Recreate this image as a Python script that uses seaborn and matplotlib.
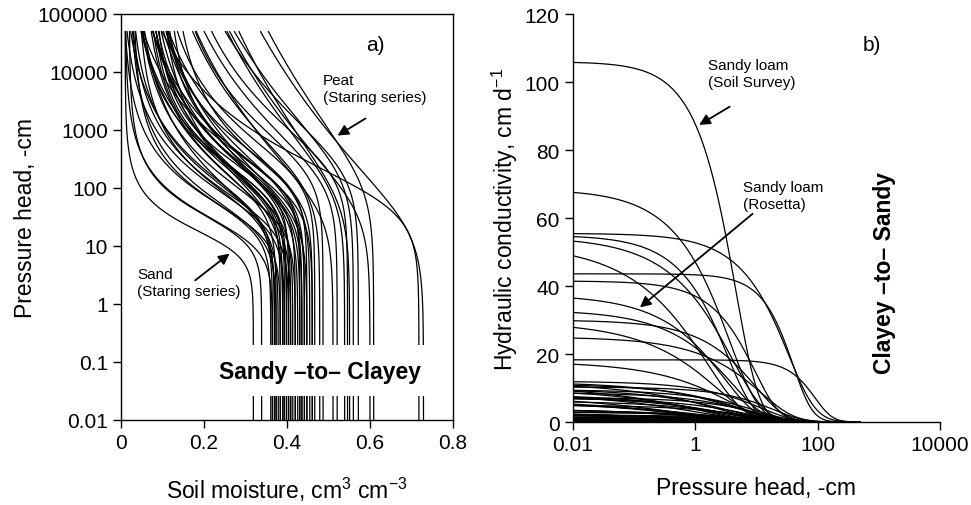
import numpy as np
import pandas as pd
import seaborn as sns
import matplotlib
matplotlib.use("Agg")
import matplotlib.pyplot as plt
from matplotlib.patches import Rectangle
from matplotlib.ticker import FixedLocator, NullLocator, FuncFormatter

theta_r = [0.01, 0.02, 0.03, 0.02, 0.04, 0.05, 0.03, 0.06, 0.04, 0.07, 0.05, 0.08,
           0.02, 0.09, 0.06, 0.03, 0.10, 0.05, 0.11, 0.07, 0.02, 0.12, 0.08, 0.04,
           0.10, 0.00, 0.05, 0.00, 0.10, 0.00, 0.00, 0.05, 0.00, 0.00, 0.00, 0.00,
           0.005, 0.015, 0.03, 0.06, 0.01,
           0.00, 0.01, 0.03, 0.00, 0.02, 0.00, 0.04, 0.01, 0.02, 0.00]
theta_s = [0.319, 0.339, 0.361, 0.365, 0.370, 0.374, 0.379, 0.384, 0.390, 0.394, 0.399, 0.404,
           0.409, 0.414, 0.420, 0.426, 0.431, 0.436, 0.442, 0.448, 0.455, 0.461, 0.467, 0.479,
           0.487, 0.511, 0.521, 0.539, 0.546, 0.551, 0.560, 0.572, 0.600, 0.609, 0.718, 0.729,
           0.384, 0.404, 0.420, 0.436, 0.365,
           0.370, 0.390, 0.399, 0.409, 0.431, 0.442, 0.448, 0.461, 0.374, 0.394]
alpha_a = [0.080, 0.050, 0.035, 0.020, 0.025, 0.015, 0.030, 0.012, 0.020, 0.010, 0.015, 0.008,
           0.012, 0.020, 0.010, 0.018, 0.007, 0.010, 0.012, 0.006, 0.009, 0.009, 0.005, 0.008,
           0.004, 0.020, 0.006, 0.010, 0.004, 0.015, 0.005, 0.004, 0.020, 0.008, 0.015, 0.046,
           0.040, 0.030, 0.025, 0.015, 0.060,
           0.020, 0.012, 0.010, 0.025, 0.015, 0.008, 0.020, 0.012, 0.040, 0.030]
n_a = [2.00, 1.80, 1.60, 1.45, 1.50, 1.40, 1.35, 1.45, 1.30, 1.50, 1.35, 1.55,
       1.30, 1.40, 1.40, 1.25, 1.50, 1.30, 1.45, 1.40, 1.25, 1.40, 1.35, 1.20,
       1.30, 1.15, 1.20, 1.12, 1.25, 1.10, 1.13, 1.18, 1.12, 1.09, 1.30, 1.10,
       1.55, 1.45, 1.40, 1.35, 1.70,
       1.40, 1.35, 1.45, 1.30, 1.30, 1.35, 1.25, 1.30, 1.50, 1.45]
h_min_a, h_max_a = 0.01, 50000

# ---------------- Panel b: hydraulic conductivity curves -------------
k_sat = [106.0, 68.5, 55.5, 55.0, 54.5, 52.5, 43.6, 41.5, 37.5, 33.0, 30.0, 29.5, 25.0,
         18.3, 17.8, 12.0, 11.6, 11.2, 10.8, 10.3, 9.8, 9.2, 8.6, 8.0, 7.6, 7.2, 6.7,
         6.2, 5.6, 5.0, 4.2, 3.6, 3.3, 3.0, 2.7, 2.4, 2.1, 1.8, 1.5, 1.2, 0.9, 0.6,
         0.4, 0.25, 0.12,
         11.8, 10.0, 9.5, 8.2, 7.0, 6.5, 3.8, 3.1, 2.9, 2.2, 1.9, 1.6, 1.3, 1.0, 0.8,
         0.7, 0.5, 0.3]
alpha_b = [0.090, 0.080, 0.010, 0.100, 0.060, 0.120, 0.0125, 0.040, 0.080, 0.060, 0.030,
           0.080, 0.020, 0.006, 0.050, 0.020, 0.050, 0.030, 0.080, 0.015, 0.040, 0.060,
           0.025, 0.100, 0.035, 0.020, 0.070, 0.030, 0.050, 0.020, 0.040, 0.030, 0.060,
           0.020, 0.050, 0.030, 0.015, 0.040, 0.025, 0.050, 0.020, 0.030, 0.015, 0.020, 0.010,
           0.030, 0.060, 0.020, 0.045, 0.025, 0.080, 0.030, 0.050, 0.020, 0.040, 0.015,
           0.060, 0.025, 0.035, 0.015, 0.050, 0.020, 0.030]
n_b = [2.00, 1.70, 1.80, 1.80, 1.60, 1.50, 2.30, 1.90, 1.60, 1.60, 1.70, 1.50, 1.60,
       2.50, 1.50, 1.60, 1.40, 1.50, 1.35, 1.70, 1.45, 1.30, 1.55, 1.30, 1.40, 1.60,
       1.30, 1.45, 1.35, 1.50, 1.30, 1.40, 1.25, 1.45, 1.30, 1.35, 1.50, 1.25, 1.40,
       1.20, 1.30, 1.25, 1.35, 1.20, 1.30,
       1.45, 1.35, 1.55, 1.40, 1.50, 1.30, 1.35, 1.25, 1.50, 1.30, 1.45, 1.20, 1.35,
       1.25, 1.40, 1.20, 1.30, 1.25]
h_min_b, h_max_b = 0.01, 500


def vg_theta(h, tr, ts, a, n):
    m = 1 - 1 / n
    return tr + (ts - tr) / (1 + (a * h) ** n) ** m


def vg_k(h, ks, a, n, L=0.5):
    m = 1 - 1 / n
    se = (1 + (a * h) ** n) ** (-m)
    return ks * se ** L * (1 - (1 - se ** (1 / m)) ** m) ** 2


ha = np.logspace(np.log10(h_min_a), np.log10(h_max_a), 500)
rows = []
for i, (tr, ts, a, n) in enumerate(zip(theta_r, theta_s, alpha_a, n_a)):
    rows.append(pd.DataFrame({"curve": i, "h": ha, "theta": vg_theta(ha, tr, ts, a, n)}))
df_a = pd.concat(rows, ignore_index=True)

hb = np.logspace(np.log10(h_min_b), np.log10(h_max_b), 500)
rows = []
for i, (ks, a, n) in enumerate(zip(k_sat, alpha_b, n_b)):
    rows.append(pd.DataFrame({"curve": i, "h": hb, "K": vg_k(hb, ks, a, n)}))
df_b = pd.concat(rows, ignore_index=True)

sns.set_style("ticks")
plt.rcParams["font.family"] = ["Liberation Sans", "DejaVu Sans"]
plt.rcParams["mathtext.fontset"] = "custom"
plt.rcParams["mathtext.rm"] = "Liberation Sans"
plt.rcParams["mathtext.it"] = "Liberation Sans"
plt.rcParams["text.color"] = "black"
plt.rcParams["axes.labelcolor"] = "black"
plt.rcParams["xtick.color"] = "black"
plt.rcParams["ytick.color"] = "black"

fig = plt.figure(figsize=(9.71, 5.06), dpi=100)
ax1 = fig.add_axes([0.1246, 0.168, 0.3419, 0.8024])
ax2 = fig.add_axes([0.590, 0.164, 0.378, 0.806])

TICK = 15
LAB = 16.5
ANN = 11

# ---- panel a
sns.lineplot(data=df_a, x="theta", y="h", units="curve", estimator=None, sort=False,
             color="black", lw=0.9, ax=ax1, legend=False)
ax1.set_yscale("log")
ax1.set_xlim(0, 0.8)
ax1.set_ylim(0.01, 100000)
ax1.xaxis.set_major_locator(FixedLocator([0, 0.2, 0.4, 0.6, 0.8]))
ax1.yaxis.set_major_locator(FixedLocator([0.01, 0.1, 1, 10, 100, 1000, 10000, 100000]))
ax1.yaxis.set_minor_locator(NullLocator())
fmt = FuncFormatter(lambda v, p: "{:g}".format(v))
ax1.xaxis.set_major_formatter(fmt)
ax1.yaxis.set_major_formatter(fmt)
ax1.set_xlabel("Soil moisture, cm$^{3}$ cm$^{-3}$", fontsize=LAB, labelpad=16)
ax1.set_ylabel("Pressure head, -cm", fontsize=LAB, labelpad=0)

ax1.add_patch(Rectangle((0.33, 0.06), 0.63, 0.125, transform=ax1.transAxes,
                        facecolor="white", edgecolor="none", zorder=3))
ax1.text(0.60, 0.12, "Sandy \u2013to\u2013 Clayey", transform=ax1.transAxes, fontsize=16.5,
         fontweight="bold", ha="center", va="center", zorder=4)
ax1.text(0.765, 0.926, "a)", transform=ax1.transAxes, fontsize=TICK, ha="center", va="center")
ax1.text(0.487, 10 ** 3.98, "Peat\n(Staring series)", fontsize=ANN, ha="left", va="top",
         linespacing=1.25)
ax1.annotate("", xy=(0.516, 757), xytext=(0.595, 1675),
             arrowprops=dict(arrowstyle="-|>", color="black", lw=1.3, mutation_scale=16))
ax1.text(0.0386, 4.35, "Sand\n(Staring series)", fontsize=ANN, ha="left", va="top",
         linespacing=1.25)
ax1.annotate("", xy=(0.267, 7.9), xytext=(0.1735, 2.39),
             arrowprops=dict(arrowstyle="-|>", color="black", lw=1.3, mutation_scale=16))

# ---- panel b
sns.lineplot(data=df_b, x="h", y="K", units="curve", estimator=None, sort=False,
             color="black", lw=0.9, ax=ax2, legend=False)
ax2.set_xscale("log")
ax2.set_xlim(0.01, 10000)
ax2.set_ylim(0, 120)
ax2.xaxis.set_major_locator(FixedLocator([0.01, 1, 100, 10000]))
ax2.xaxis.set_minor_locator(NullLocator())
ax2.yaxis.set_major_locator(FixedLocator([0, 20, 40, 60, 80, 100, 120]))
ax2.xaxis.set_major_formatter(fmt)
ax2.yaxis.set_major_formatter(fmt)
ax2.set_xlabel("Pressure head, -cm", fontsize=LAB, labelpad=16)
ax2.set_ylabel("Hydraulic conductivity, cm d$^{-1}$", fontsize=LAB, labelpad=3)
sns.despine(ax=ax2)
ax2.text(0.815, 0.926, "b)", transform=ax2.transAxes, fontsize=TICK, ha="center", va="center")
ax2.text(1.61, 107, "Sandy loam\n(Soil Survey)", fontsize=ANN, ha="left", va="top",
         linespacing=1.25)
ax2.annotate("", xy=(1.06, 87), xytext=(4.0, 93.2),
             arrowprops=dict(arrowstyle="-|>", color="black", lw=1.3, mutation_scale=16))
ax2.text(6.0, 71.2, "Sandy loam\n(Rosetta)", fontsize=ANN, ha="left", va="top",
         linespacing=1.25)
ax2.annotate("", xy=(0.115, 33.2), xytext=(9.4, 61.8),
             arrowprops=dict(arrowstyle="-|>", color="black", lw=1.3, mutation_scale=16))
ax2.text(0.85, 0.368, "Clayey \u2013to\u2013 Sandy", transform=ax2.transAxes, fontsize=16.5,
         fontweight="bold", rotation=90, ha="center", va="center")

for ax in (ax1, ax2):
    ax.tick_params(direction="out", length=6, width=1, labelsize=TICK, colors="black")
    for s in ax.spines.values():
        s.set_linewidth(1)
        s.set_color("black")

fig.savefig("out.png", dpi=100)
